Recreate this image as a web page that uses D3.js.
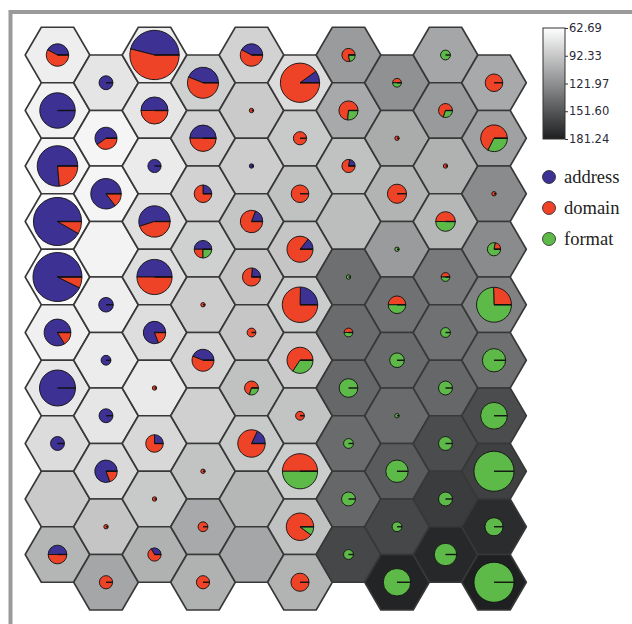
<!DOCTYPE html>
<html><head><meta charset="utf-8">
<script src="https://cdn.jsdelivr.net/npm/d3@7"></script>
<style>body{margin:0;background:#fff}svg{display:block}</style>
</head><body>
<script>
// U-matrix distance values, one array per map column (rows top -> bottom)
const umatrix = [
  [71.6, 69.5, 67.9, 65.3, 65.3, 70.5, 74.7, 81.0, 90.4, 101.9],
  [76.3, 67.9, 67.9, 69.0, 71.0, 72.6, 75.7, 82.0, 93.0, 109.7],
  [72.6, 75.7, 73.1, 78.9, 79.9, 79.9, 73.7, 83.1, 91.4, 104.0],
  [87.7, 86.2, 86.2, 87.7, 88.8, 84.6, 87.2, 94.5, 108.1, 104.0],
  [86.2, 90.4, 88.8, 93.5, 93.0, 92.5, 95.6, 91.4, 101.3, 109.7],
  [81.0, 91.4, 95.6, 93.0, 89.8, 90.4, 94.5, 89.8, 95.6, 102.9],
  [115.4, 108.1, 95.6, 97.7, 138.4, 140.5, 142.6, 140.5, 142.6, 159.8],
  [120.7, 107.1, 102.9, 115.4, 137.4, 141.0, 140.5, 148.9, 159.8, 178.1],
  [109.7, 116.0, 104.0, 101.3, 133.2, 137.4, 142.6, 157.2, 165.6, 175.9],
  [108.1, 112.3, 123.8, 123.8, 129.0, 138.4, 157.2, 163.5, 174.0, 180.2]
];
// hits per class in each cell, one array per map column
const addressHits = [
  [11, 65, 65, 110, 115, 31, 67, 10, 0, 9],
  [10, 15, 41, 0, 11, 5, 10, 21, 0, 0],
  [58, 19, 9, 28, 32, 21, 0, 4, 0, 3],
  [22, 18, 4, 8, 0, 11, 0, 0, 0, 0],
  [11, 0, 1, 5, 4, 0, 0, 7, 0, 0],
  [8, 0, 0, 5, 16, 0, 0, 0, 0, 0],
  [0, 0, 2, 0, 0, 0, 0, 0, 0, 0],
  [0, 0, 0, 0, 0, 0, 0, 0, 0, 0],
  [0, 0, 0, 0, 0, 0, 0, 0, 0, 0],
  [0, 0, 0, 0, 0, 0, 0, 0, 0, 0]
];
const domainHits = [
  [15, 0, 20, 10, 9, 6, 0, 0, 0, 9],
  [0, 10, 7, 0, 0, 0, 0, 5, 1, 9],
  [68, 19, 0, 23, 32, 5, 1, 12, 1, 6],
  [28, 18, 12, 4, 1, 14, 0, 1, 5, 9],
  [15, 1, 0, 21, 13, 4, 7, 32, 0, 0],
  [72, 9, 16, 30, 49, 23, 4, 32, 35, 17],
  [7, 14, 7, 0, 0, 2, 0, 0, 0, 0],
  [2, 1, 19, 0, 8, 0, 0, 0, 0, 0],
  [0, 7, 1, 10, 2, 0, 0, 0, 0, 0],
  [16, 25, 1, 2, 16, 0, 0, 0, 0, 0]
];
const formatHits = [
  [0, 0, 0, 0, 0, 0, 0, 0, 0, 0],
  [0, 0, 0, 0, 0, 0, 0, 0, 0, 0],
  [0, 0, 0, 0, 0, 0, 0, 0, 0, 0],
  [0, 0, 0, 4, 0, 0, 0, 0, 0, 0],
  [0, 0, 0, 0, 0, 0, 3, 0, 0, 0],
  [0, 0, 0, 0, 0, 12, 0, 32, 4, 0],
  [2, 5, 0, 0, 1, 2, 18, 5, 10, 5],
  [2, 0, 0, 1, 8, 11, 1, 26, 5, 39],
  [5, 3, 0, 10, 2, 5, 10, 10, 10, 26],
  [0, 12, 0, 7, 47, 28, 37, 83, 17, 83]
];
const classNames = ["address", "domain", "format"];
const classColors = ["#3d3194", "#ef4328", "#5dba48"];
const colorTicks = [62.69, 92.33, 121.97, 151.60, 181.24];

const W = 632, H = 624;
const svg = d3.select("body").append("svg").attr("width", W).attr("height", H);
svg.append("rect").attr("width", W).attr("height", H).attr("fill", "#fff");

// frame
svg.append("path").attr("d", `M10.5,${H} L10.5,12 L${W},12`)
  .attr("fill", "none").attr("stroke", "#9a9a9a").attr("stroke-width", 4);

const nCols = umatrix.length, nRows = umatrix[0].length;
const xs = d3.scaleLinear().domain([0, nCols - 1]).range([57.5, 494]);
const ys = d3.scaleLinear().domain([0, nRows - 1]).range([55, 554.5]);
const color = d3.scaleLinear().domain([62.69, 181.24]).range(["#ffffff", "#1c1e20"]);
const rScale = d3.scaleSqrt().domain([0, 100]).range([0, 22]);

const colStep = xs(1) - xs(0);
const Rx = colStep / 1.5;
const Ry = (ys(1) - ys(0)) / 2;
const hexPts = [[Rx, 0], [Rx / 2, Ry], [-Rx / 2, Ry], [-Rx, 0], [-Rx / 2, -Ry], [Rx / 2, -Ry]];
const hexPath = d3.line()(hexPts) + "Z";

const cells = [];
for (let c = 0; c < nCols; c++) {
  for (let r = 0; r < nRows; r++) {
    cells.push({
      c, r,
      cx: xs(c),
      cy: ys(c % 2 ? r + 0.5 : r),
      v: umatrix[c][r],
      hits: [addressHits[c][r], domainHits[c][r], formatHits[c][r]]
    });
  }
}

const g = svg.append("g");
g.selectAll("path.hex").data(cells).join("path")
  .attr("class", "hex")
  .attr("d", hexPath)
  .attr("transform", d => `translate(${d.cx},${d.cy})`)
  .attr("fill", d => color(d.v))
  .attr("stroke", "#383838").attr("stroke-width", 1.6)
  .attr("stroke-linejoin", "round");

const pie = d3.pie().sort(null).value(d => d.n)
  .startAngle(Math.PI / 2).endAngle(Math.PI / 2 - 2 * Math.PI);

cells.forEach(d => {
  const total = d3.sum(d.hits);
  if (!total) return;
  const rad = rScale(total);
  const pg = g.append("g").attr("transform", `translate(${d.cx},${d.cy})`);
  const slices = pie(d.hits.map((n, i) => ({ n, i }))).filter(s => s.data.n > 0);
  const arc = d3.arc().innerRadius(0).outerRadius(rad);
  pg.selectAll("path").data(slices).join("path")
    .attr("d", arc)
    .attr("fill", s => classColors[s.data.i])
    .attr("stroke", "#111").attr("stroke-width", 0.9)
    .attr("stroke-linejoin", "round");
  pg.append("line").attr("x1", 0).attr("y1", 0).attr("x2", rad).attr("y2", 0)
    .attr("stroke", "#111").attr("stroke-width", 1.4);
});

// colour bar
const cbX = 543, cbW = 22, cbTop = 28, cbBot = 139;
const defs = svg.append("defs");
const grad = defs.append("linearGradient").attr("id", "cb")
  .attr("x1", 0).attr("y1", 0).attr("x2", 0).attr("y2", 1);
d3.range(0, 1.0001, 0.1).forEach(t => {
  grad.append("stop").attr("offset", t)
    .attr("stop-color", color(62.69 + t * (181.24 - 62.69)));
});
svg.append("rect").attr("x", cbX).attr("y", cbTop).attr("width", cbW).attr("height", cbBot - cbTop)
  .attr("fill", "url(#cb)").attr("stroke", "#333").attr("stroke-width", 1);
const cbScale = d3.scaleLinear().domain([62.69, 181.24]).range([cbTop, cbBot]);
const cbAxis = d3.axisRight(cbScale).tickValues(colorTicks)
  .tickFormat(d3.format(".2f")).tickSize(3).tickPadding(1);
const ax = svg.append("g").attr("transform", `translate(${cbX + cbW},0)`).call(cbAxis);
ax.select(".domain").remove();
ax.selectAll("line").attr("stroke", "#333");
ax.selectAll("text").attr("font-family", "DejaVu Sans, Verdana, sans-serif")
  .attr("font-size", 11.5).attr("fill", "#2a2a3a");

// legend
const legY = d3.scalePoint().domain(classNames).range([177, 239]);
const leg = svg.append("g");
classNames.forEach((name, i) => {
  leg.append("circle").attr("cx", 549).attr("cy", legY(name)).attr("r", 6.5)
    .attr("fill", classColors[i]).attr("stroke", "#222").attr("stroke-width", 0.8);
  leg.append("text").attr("x", 564).attr("y", legY(name)).attr("dy", "0.32em")
    .attr("font-family", "Liberation Serif, Times New Roman, serif")
    .attr("font-size", 18.5).attr("fill", "#222").text(name);
});
</script>
</body></html>
